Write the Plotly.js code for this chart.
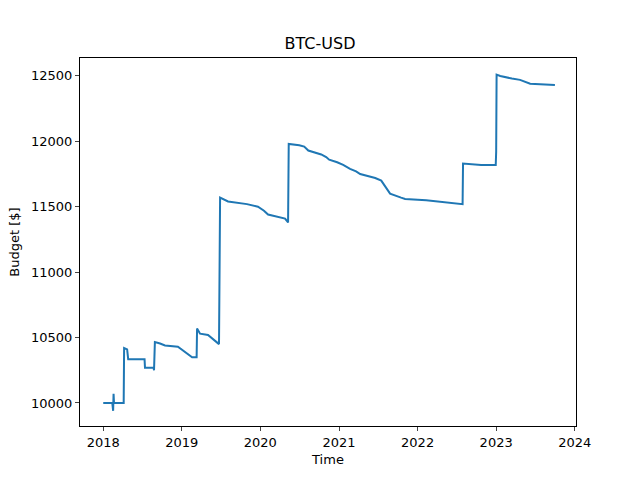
<!DOCTYPE html>
<html><head><script src="https://cdn.plot.ly/plotly-3.0.1.min.js"></script></head>
<body style="margin:0"><div id="c" style="width:640px;height:480px"></div>
<script>
const dates = ["2018-01-01","2018-02-03","2018-02-12","2018-02-16","2018-02-18","2018-02-20","2018-03-01","2018-04-06","2018-04-08","2018-04-22","2018-04-27","2018-07-12","2018-07-14","2018-08-23","2018-08-25","2018-08-29","2018-09-22","2018-10-15","2018-12-14","2019-02-18","2019-03-11","2019-03-13","2019-03-27","2019-05-03","2019-06-23","2019-06-28","2019-08-04","2019-10-31","2019-12-21","2020-01-18","2020-02-06","2020-04-25","2020-05-09","2020-05-12","2020-06-30","2020-07-23","2020-08-11","2020-10-10","2020-11-02","2020-11-16","2020-12-23","2021-01-20","2021-02-21","2021-03-21","2021-04-09","2021-06-18","2021-07-16","2021-08-12","2021-08-26","2021-10-16","2021-11-04","2022-02-10","2022-04-02","2022-07-08","2022-07-29","2022-07-31","2022-10-23","2022-12-30","2023-01-01","2023-01-03","2023-01-20","2023-03-15","2023-04-22","2023-06-08","2023-09-22","2023-10-01"];
const budget = [10000,10000,10000,9940,10070,10000,10000,10000,10420,10410,10335,10335,10270,10270,10250,10465,10455,10440,10430,10350,10350,10570,10530,10520,10450,11570,11540,11520,11500,11470,11440,11410,11380,11980,11970,11960,11930,11900,11880,11860,11840,11820,11790,11770,11750,11720,11700,11640,11600,11570,11560,11550,11540,11520,11520,11830,11820,11820,11920,12510,12500,12480,12470,12440,12430,12430];
Plotly.newPlot('c',[{x:dates,y:budget,mode:'lines',line:{color:'#1f77b4',width:2}}],{
 width:640,height:480,margin:{l:80,r:64,t:58,b:54},
 paper_bgcolor:'white',plot_bgcolor:'white',showlegend:false,
 font:{family:'DejaVu Sans',size:13,color:'black'},
 title:{text:'BTC-USD',x:0.5,xanchor:'center',y:0.91,yanchor:'middle',font:{size:16}},
 xaxis:{range:['2017-09-15','2024-01-07'],type:'date',tickvals:['2018-01-01','2019-01-01','2020-01-01','2021-01-01','2022-01-01','2023-01-01','2024-01-01'],ticktext:['2018','2019','2020','2021','2022','2023','2024'],ticks:'outside',ticklen:4,showgrid:false,zeroline:false,showline:true,mirror:true,linecolor:'black',title:{text:'Time',standoff:6,font:{size:13}}},
 yaxis:{range:[9824,12637],tickvals:[10000,10500,11000,11500,12000,12500],ticktext:['10000','10500','11000','11500','12000','12500'],ticks:'outside',ticklen:4,showgrid:false,zeroline:false,showline:true,mirror:true,linecolor:'black',title:{text:'Budget [$]',standoff:8,font:{size:13}}}
},{staticPlot:true});
</script></body></html>
